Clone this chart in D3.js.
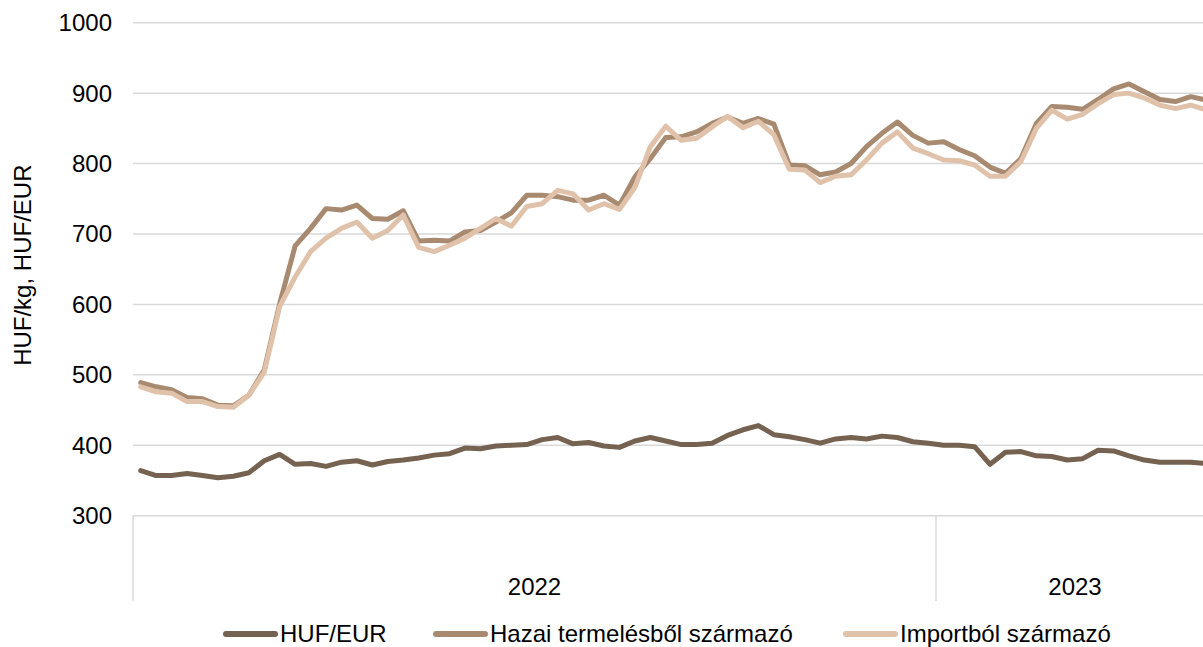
<!DOCTYPE html>
<html>
<head>
    <meta charset="UTF-8">
    <title>HUF/kg, HUF/EUR</title>
    <style>
        body{margin:0;background:#fff;}
        text{font-family:"Liberation Sans",Arial,sans-serif;fill:#000;}
    </style>
</head>
<body>
    <script src="https://d3js.org/d3.v7.min.js"></script>
    <script type="text/javascript">
        // data
        var years = ["2022", "2023"];
        var weeksPerYear = [52, 18];
        var seriesNames = ["HUF/EUR", "Hazai termelésből származó", "Importból származó"];
        var yTicks = [300, 400, 500, 600, 700, 800, 900, 1000];

        var hufEur = [364, 357, 357, 360, 357, 354, 356, 361, 378, 387,
                      373, 374, 370, 376, 378, 372, 377, 379, 382, 386,
                      388, 396, 395, 399, 400, 401, 408, 411, 402, 404,
                      399, 397, 406, 411, 406, 401, 401, 403, 414, 422,
                      428, 415, 412, 408, 403, 409, 411, 409, 413, 411,
                      405, 403, 400, 400, 398, 373, 390, 391, 385, 384,
                      379, 381, 393, 392, 385, 379, 376, 376, 376, 374];

        var hazai = [489, 483, 479, 468, 466, 457, 456, 471, 507, 601,
                     683, 708, 736, 734, 741, 722, 721, 733, 690, 691,
                     690, 703, 705, 717, 730, 755, 755, 753, 748, 748,
                     755, 741, 781, 807, 837, 838, 845, 857, 866, 857,
                     864, 856, 798, 797, 784, 788, 800, 824, 843, 859,
                     840, 829, 831, 820, 811, 795, 786, 807, 857, 881,
                     880, 877, 891, 906, 913, 902, 891, 888, 895, 890];

        var importbol = [483, 476, 474, 462, 462, 455, 454, 471, 504, 597,
                         639, 675, 694, 708, 717, 694, 705, 727, 681, 675,
                         684, 694, 708, 722, 711, 739, 743, 762, 757, 734,
                         743, 735, 766, 824, 853, 833, 836, 852, 867, 851,
                         860, 841, 792, 791, 773, 782, 784, 805, 829, 845,
                         822, 814, 805, 804, 798, 782, 782, 803, 850, 876,
                         863, 870, 885, 898, 900, 893, 883, 878, 883, 876];

        var colors = ["#766250", "#a88a70", "#e0c2aa"];

        // canvas
        var width = 1203;
        var height = 647;
        var svg = d3.select("body").append("svg")
            .attr("width", width)
            .attr("height", height);

        var plotLeft = 133;
        var weekWidth = 803 / 52;
        var plotTop = 22.7;
        var plotBottom = 515.7;
        var catBottom = 601;
        var fontSize = 24;

        // weekly categories
        var weeks = [];
        years.forEach(function(yr, k){
            for(var w = 1; w <= weeksPerYear[k]; w++){
                weeks.push(yr + "-" + w);
            }
        });
        var x = d3.scaleBand()
            .domain(weeks)
            .range([plotLeft, plotLeft + weeks.length * weekWidth])
            .padding(0);
        var y = d3.scaleLinear()
            .domain([300, 1000])
            .range([plotBottom, plotTop]);

        // grid lines
        svg.append("g").selectAll("line")
            .data(yTicks)
            .enter().append("line")
            .attr("x1", plotLeft)
            .attr("x2", width)
            .attr("y1", function(d){ return y(d); })
            .attr("y2", function(d){ return y(d); })
            .attr("stroke", "#d9d9d9")
            .attr("stroke-width", 1.5);

        // y labels
        svg.append("g").selectAll("text")
            .data(yTicks)
            .enter().append("text")
            .attr("x", 112)
            .attr("y", function(d){ return y(d); })
            .attr("dy", "0.35em")
            .attr("text-anchor", "end")
            .attr("font-size", fontSize)
            .text(function(d){ return d; });

        svg.append("text")
            .attr("transform", "translate(31," + ((plotTop + plotBottom) / 2 - 4) + ") rotate(-90)")
            .attr("text-anchor", "middle")
            .attr("font-size", fontSize)
            .text("HUF/kg, HUF/EUR");

        // year separators and labels
        var start = 0;
        years.forEach(function(yr, k){
            var x0 = x(weeks[start]);
            var x1 = x(weeks[start + weeksPerYear[k] - 1]) + x.bandwidth();
            svg.append("line")
                .attr("x1", x0).attr("x2", x0)
                .attr("y1", plotBottom).attr("y2", catBottom)
                .attr("stroke", "#d9d9d9")
                .attr("stroke-width", 1.5);
            svg.append("text")
                .attr("x", (x0 + x1) / 2)
                .attr("y", 595)
                .attr("text-anchor", "middle")
                .attr("font-size", fontSize)
                .text(yr);
            start += weeksPerYear[k];
        });

        // lines
        var line = d3.line()
            .x(function(d, i){ return x(weeks[i]) + x.bandwidth() / 2; })
            .y(function(d){ return y(d); });

        [hufEur, hazai, importbol].forEach(function(s, k){
            svg.append("path")
                .datum(s)
                .attr("d", line)
                .attr("fill", "none")
                .attr("stroke", colors[k])
                .attr("stroke-width", 5)
                .attr("stroke-linejoin", "round")
                .attr("stroke-linecap", "round");
        });

        // legend
        var legendX = [223, 433, 843];
        var legendY = 634;
        seriesNames.forEach(function(name, k){
            svg.append("line")
                .attr("x1", legendX[k] + 3)
                .attr("x2", legendX[k] + 52)
                .attr("y1", legendY)
                .attr("y2", legendY)
                .attr("stroke", colors[k])
                .attr("stroke-width", 6)
                .attr("stroke-linecap", "round");
            svg.append("text")
                .attr("x", legendX[k] + 57)
                .attr("y", legendY + 8)
                .attr("font-size", fontSize)
                .text(name);
        });
    </script>
</body>
</html>
